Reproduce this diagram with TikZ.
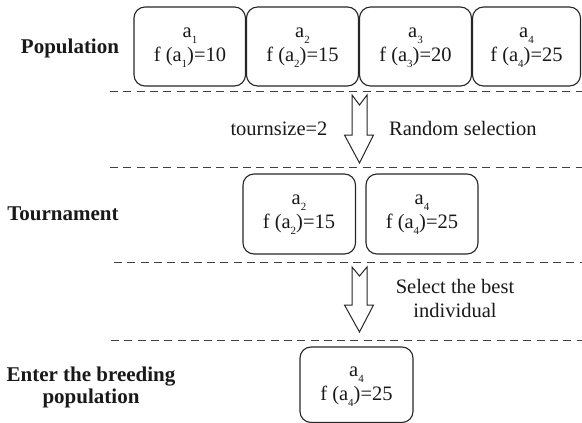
\documentclass[tikz,border=0pt]{standalone}
\usepackage{fontspec}
\setmainfont{Liberation Serif}
\newcommand\subs[1]{\raisebox{-0.3em}{\fontsize{11}{11}\selectfont #1}}
\begin{document}
\begin{tikzpicture}[x=1pt,y=-1pt,
  indbox/.style={draw=black!85,line width=1.1pt,rounded corners=11pt},
  sep/.style={draw=black!75,line width=1pt,dash pattern=on 8pt off 5.3pt},
  blockarrow/.style={draw=black!85,line width=1pt,fill=white,line join=miter},
  txt/.style={font=\fontsize{20.5}{24}\selectfont,text=black!90,inner sep=0pt,align=center},
  lab/.style={font=\fontsize{21}{22}\selectfont\bfseries,text=black!90,inner sep=0pt,align=center}]
\useasboundingbox (0,0) rectangle (582,423);
% separators
\coordinate (l1a) at (110,91.5); \coordinate (l1b) at (582,91.5);
\coordinate (l2a) at (110,167); \coordinate (l2b) at (582,167);
\coordinate (l3a) at (114,262); \coordinate (l3b) at (582,262);
\coordinate (l4a) at (111,340); \coordinate (l4b) at (582,340);
\draw[sep] (l1a) -- (l1b);
\draw[sep] (l2a) -- (l2b);
\draw[sep] (l3a) -- (l3b);
\draw[sep] (l4a) -- (l4b);
% population
\draw[indbox] (134,7) rectangle (245.5,86);
\draw[indbox] (246.5,7) rectangle (358.5,86);
\draw[indbox] (359.5,7) rectangle (471.5,86);
\draw[indbox] (472.5,7) rectangle (580.5,86);
\node[txt,anchor=base] (b1) at (190,61) {a\subs{1}\\f (a\subs{1})=10};
\node[txt,anchor=base] (b2) at (302.5,61) {a\subs{2}\\f (a\subs{2})=15};
\node[txt,anchor=base] (b3) at (415.5,61) {a\subs{3}\\f (a\subs{3})=20};
\node[txt,anchor=base] (b4) at (526.5,61) {a\subs{4}\\f (a\subs{4})=25};
\node[lab,anchor=base] (pop) at (70,53) {Population};
% arrow 1
\draw[blockarrow] (352,95) -- (359.5,105) -- (367,95) -- (367,135) -- (373.5,135) -- (359.5,163) -- (344.5,135) -- (352,135) -- cycle;
\node[txt,anchor=base] (ts) at (279,135) {tournsize=2};
\node[txt,anchor=base west] (rs) at (389,135) {Random selection};
% tournament
\draw[indbox] (243,174) rectangle (355.5,254);
\draw[indbox] (366,174) rectangle (478,254);
\node[txt,anchor=base] (t1) at (299,228) {a\subs{2}\\f (a\subs{2})=15};
\node[txt,anchor=base] (t2) at (422,228) {a\subs{4}\\f (a\subs{4})=25};
\node[lab,anchor=base] (tour) at (63,220) {Tournament};
% arrow 2
\draw[blockarrow] (352,267) -- (359.5,276) -- (367,267) -- (367,305) -- (373.5,305) -- (359.5,332) -- (344.5,305) -- (352,305) -- cycle;
\node[txt,anchor=base] (sb) at (455,317) {Select the best\\individual};
% breeding
\draw[indbox] (300,347) rectangle (413,422.5);
\node[txt,anchor=base] (f1) at (356.5,400) {a\subs{4}\\f (a\subs{4})=25};
\node[lab,anchor=base] (ent) at (91,403) {Enter the breeding\\population};
\end{tikzpicture}
\end{document}
